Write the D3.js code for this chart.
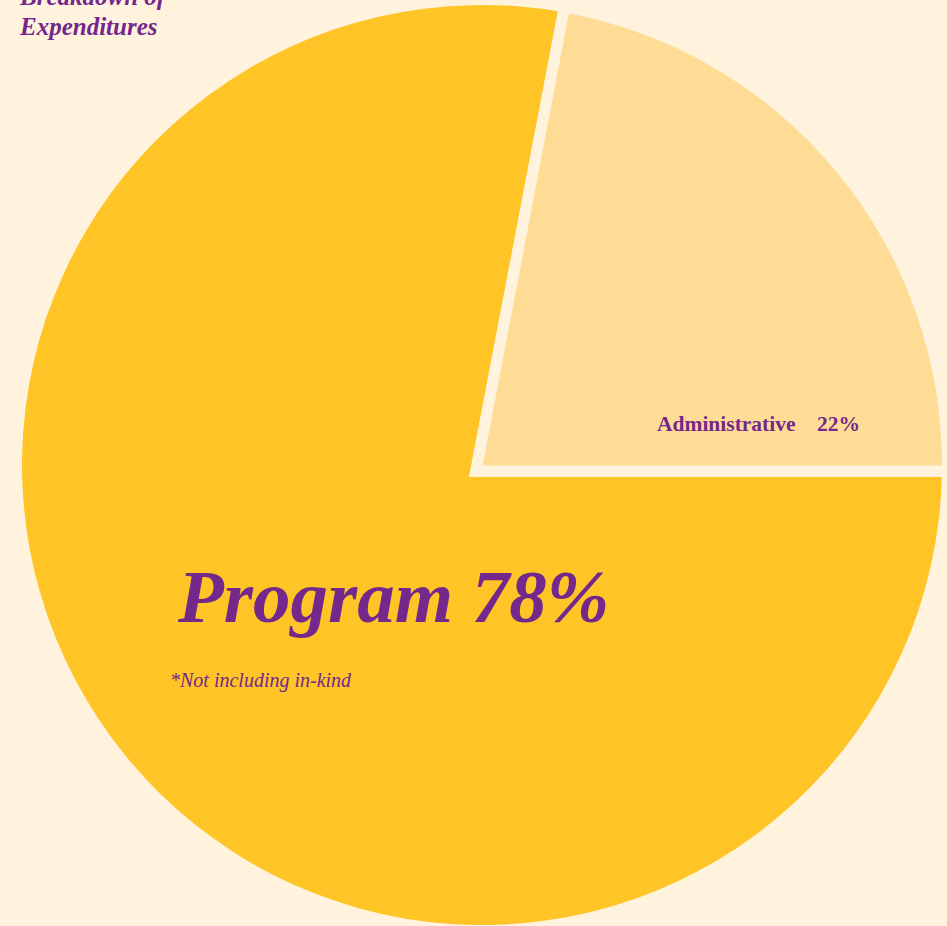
<!DOCTYPE html>
<html>
<head>
<meta charset="utf-8">
<script src="https://cdn.jsdelivr.net/npm/d3@7/dist/d3.min.js"></script>
<style>
  html, body { margin: 0; padding: 0; background: #FFF3DE; }
  svg { display: block; }
</style>
</head>
<body>
<script>
// ---- data ----
const categories = ["Program", "Administrative"];
const values = [78, 22];
const percentLabels = ["78%", "22%"];
const titleLines = ["Breakdown of", "Expenditures"];
const footnote = "*Not including in-kind";

// ---- style / layout ----
const W = 947, H = 926;
const BG = "#FFF3DE";
const PURPLE = "#74288B";
const sliceColors = d3.scaleOrdinal().domain(categories).range(["#FFC426", "#FFDC95"]);
const C0 = [482, 465];     // circle centre
const R = 460;             // circle radius
const V = [475.8, 471.2];  // slice apex
const GAP = 11;

const svg = d3.select("body").append("svg")
  .attr("width", W).attr("height", H)
  .style("background", BG);

const pie = d3.pie().sort(null)
  .startAngle(Math.PI / 2)
  .endAngle(Math.PI / 2 + 2 * Math.PI);
const arcs = pie(values);

// intersection of a ray from apex V (pie angle a, 0 = 12 o'clock, clockwise) with the outer circle
function hit(a) {
  const ux = Math.sin(a), uy = -Math.cos(a);
  const wx = V[0] - C0[0], wy = V[1] - C0[1];
  const b = wx * ux + wy * uy;
  const c = wx * wx + wy * wy - R * R;
  const t = -b + Math.sqrt(b * b - c);
  const x = V[0] + t * ux, y = V[1] + t * uy;
  let theta = Math.atan2(y - C0[1], x - C0[0]);
  const target = a - Math.PI / 2;
  theta += 2 * Math.PI * Math.round((target - theta) / (2 * Math.PI));
  return { x, y, theta };
}

function slicePath(d) {
  const p0 = hit(d.startAngle), p1 = hit(d.endAngle);
  const p = d3.path();
  p.moveTo(V[0], V[1]);
  p.lineTo(p0.x, p0.y);
  p.arc(C0[0], C0[1], R, p0.theta, p1.theta, false);
  p.closePath();
  return p.toString();
}

function edgePath(d) {
  const p0 = hit(d.startAngle), p1 = hit(d.endAngle);
  const ext = 1.02;
  const p = d3.path();
  p.moveTo(V[0] + (p1.x - V[0]) * ext, V[1] + (p1.y - V[1]) * ext);
  p.lineTo(V[0], V[1]);
  p.lineTo(V[0] + (p0.x - V[0]) * ext, V[1] + (p0.y - V[1]) * ext);
  return p.toString();
}

svg.append("g").selectAll("path.slice")
  .data(arcs).join("path")
  .attr("class", "slice")
  .attr("d", slicePath)
  .attr("fill", (d, i) => sliceColors(categories[i]));

svg.append("g").selectAll("path.gap")
  .data(arcs).join("path")
  .attr("class", "gap")
  .attr("d", edgePath)
  .attr("fill", "none")
  .attr("stroke", BG)
  .attr("stroke-width", GAP)
  .attr("stroke-linejoin", "miter");

// ---- title ----
const title = svg.append("text")
  .attr("x", 20).attr("y", 5)
  .attr("fill", PURPLE)
  .style("font-family", "'Liberation Serif', serif")
  .style("font-style", "italic")
  .style("font-weight", "bold")
  .style("font-size", "25px");
title.selectAll("tspan").data(titleLines).join("tspan")
  .attr("x", 20)
  .attr("dy", (d, i) => i === 0 ? 0 : 30)
  .text(d => d);

// ---- Program label ----
svg.append("text")
  .attr("x", 178).attr("y", 622)
  .attr("fill", PURPLE)
  .style("font-family", "'Liberation Serif', serif")
  .style("font-style", "italic")
  .style("font-weight", "bold")
  .style("font-size", "75px")
  .text(categories[0] + " " + percentLabels[0]);

svg.append("text")
  .attr("x", 170).attr("y", 687)
  .attr("fill", PURPLE)
  .style("font-family", "'Liberation Serif', serif")
  .style("font-style", "italic")
  .style("font-size", "20px")
  .text(footnote);

// ---- Administrative label ----
const adm = svg.append("text")
  .attr("y", 431)
  .attr("fill", PURPLE)
  .style("font-family", "'Liberation Serif', serif")
  .style("font-weight", "bold")
  .style("font-size", "21.5px");
adm.append("tspan").attr("x", 657).text(categories[1]);
adm.append("tspan").attr("x", 817).text(percentLabels[1]);
</script>
</body>
</html>
